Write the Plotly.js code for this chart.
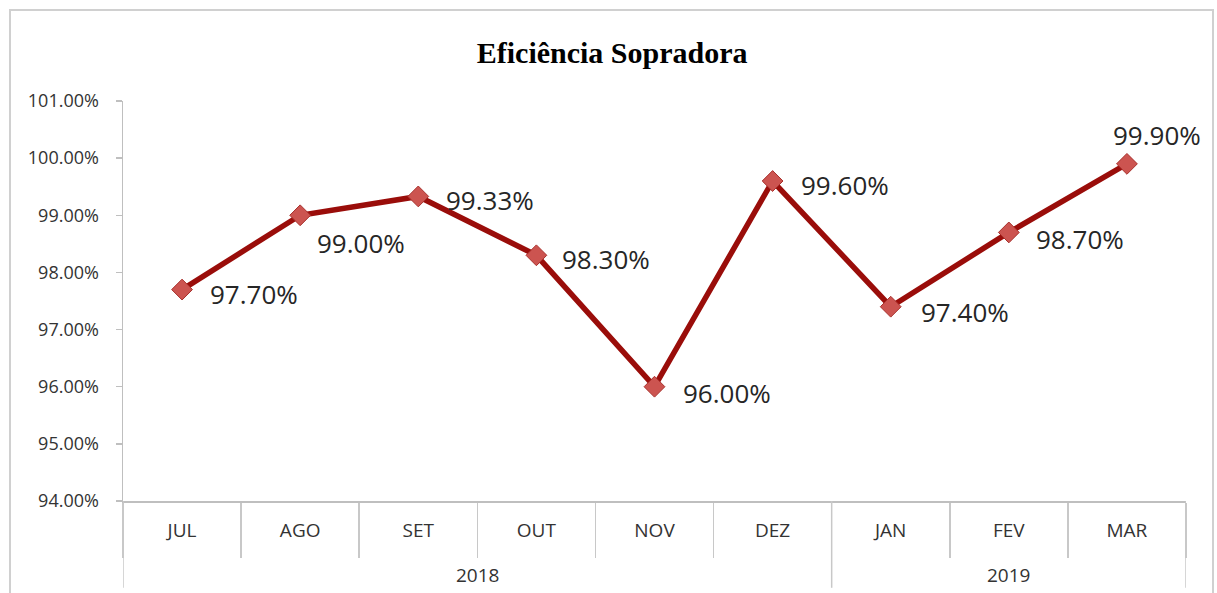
<!DOCTYPE html>
<html>
<head>
<meta charset="utf-8">
<script src="https://cdn.plot.ly/plotly-3.0.1.min.js"></script>
<style>html,body{margin:0;padding:0;background:#fff;}#chart{width:1217px;height:593px;}</style>
</head>
<body>
<div id="chart"></div>
<script>
const months = ['JUL','AGO','SET','OUT','NOV','DEZ','JAN','FEV','MAR'];
const years = ['2018','2018','2018','2018','2018','2018','2019','2019','2019'];
const values = [0.977, 0.990, 0.9933, 0.983, 0.960, 0.996, 0.974, 0.987, 0.999];
// label offsets (pixels) relative to each point
const labelDx = [26, 15, 26, 24, 26, 26, 28, 25, -16];
const labelDy = [-4, -28, -4, -4, -6, -4, -5, -7, 29];

const trace = {
  type: 'scatter',
  mode: 'lines+markers',
  x: months,
  y: values,
  line: {color: '#9a0d0a', width: 5.5},
  marker: {symbol: 'diamond', size: 16, color: '#cc5450', line: {color: '#a8302c', width: 1}},
  cliponaxis: false,
  hoverinfo: 'skip'
};

const fmt = v => (v * 100).toFixed(2) + '%';

const annotations = months.map((m, i) => ({
  x: m, y: values[i], xref: 'x', yref: 'y',
  text: fmt(values[i]), showarrow: false,
  xanchor: 'left', yanchor: 'middle',
  xshift: labelDx[i], yshift: labelDy[i],
  font: {family: 'Open Sans, sans-serif', size: 26, color: '#262626'}
}));

// year group labels and dividers, derived from the years array
const groups = [];
years.forEach((y, i) => {
  if (!groups.length || groups[groups.length - 1].year !== y) groups.push({year: y, start: i, end: i});
  else groups[groups.length - 1].end = i;
});
groups.forEach(g => {
  annotations.push({
    x: (g.start + g.end) / 2, y: -0.185, xref: 'x', yref: 'paper',
    text: g.year, showarrow: false, xanchor: 'center', yanchor: 'middle',
    font: {family: 'Open Sans, sans-serif', size: 19, color: '#333'}
  });
});

const shapes = [{type: 'rect', xref: 'paper', yref: 'paper', x0: -0.1063, x1: 1.0254, y0: -0.26, y1: 1.2275,
                 line: {color: '#d0d0d0', width: 2}, layer: 'below'}];
const bounds = [groups[0].start - 0.5].concat(groups.map(g => g.end + 0.5));
bounds.forEach(b => shapes.push({type: 'line', xref: 'x', yref: 'paper', x0: b, x1: b, y0: 0, y1: -0.217,
                                 line: {color: '#c8c8c8', width: 1.5}}));

const layout = {
  width: 1217, height: 593,
  margin: {l: 123, r: 31, t: 101, b: 92},
  paper_bgcolor: '#ffffff', plot_bgcolor: '#ffffff',
  showlegend: false,
  title: {text: '<b>Eficiência Sopradora</b>', x: 0.503, xanchor: 'center', y: 0.912, yanchor: 'middle',
          font: {family: 'Liberation Serif, Times New Roman, serif', size: 30, color: '#000'}},
  xaxis: {
    type: 'category', range: [-0.5, months.length - 0.5],
    showline: true, linecolor: '#bfbfbf', linewidth: 1.5,
    ticks: 'outside', tickson: 'boundaries', ticklen: 55, tickcolor: '#c8c8c8', tickwidth: 1.5,
    ticklabelstandoff: 12,
    tickfont: {family: 'Open Sans, sans-serif', size: 19, color: '#333'},
    showgrid: false, zeroline: false, fixedrange: true
  },
  yaxis: {
    range: [0.94, 1.01], dtick: 0.01, tick0: 0.94, tickformat: '.2%',
    showline: true, linecolor: '#bfbfbf', linewidth: 1.5,
    ticks: 'outside', ticklen: 6, tickcolor: '#bfbfbf', tickwidth: 1.5,
    tickfont: {family: 'Open Sans, sans-serif', size: 18, color: '#333'},
    ticklabelstandoff: 13,
    showgrid: false, zeroline: false, fixedrange: true
  },
  annotations: annotations,
  shapes: shapes
};

Plotly.newPlot('chart', [trace], layout, {displayModeBar: false, staticPlot: true});
</script>
</body>
</html>
